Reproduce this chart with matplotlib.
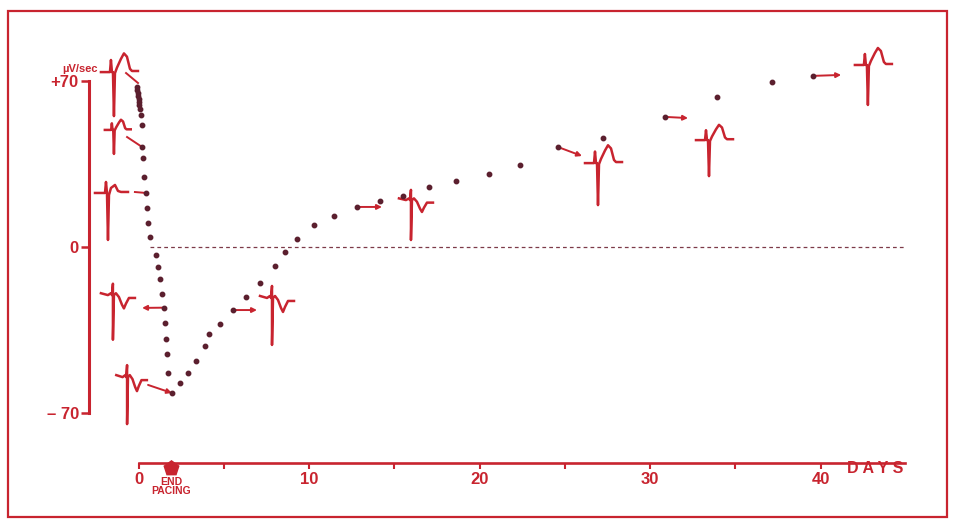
import matplotlib
matplotlib.use("Agg")
import matplotlib.pyplot as plt
from matplotlib.patches import Rectangle

# dV/dt: days after start, µV/sec
days = [-0.09, -0.06, -0.03, -0.03, 0.0, 0.03, 0.03, 0.06,
        0.13, 0.19, 0.21, 0.26, 0.32, 0.44, 0.48, 0.56, 0.67,
        1.03, 1.13, 1.26, 1.36, 1.48, 1.55, 1.61, 1.65, 1.71, 1.96,
        2.43, 2.89, 3.38, 3.90, 4.13, 4.78, 5.52, 6.30, 7.13, 8.01,
        8.62, 9.28, 10.29, 11.47, 12.81, 14.16, 15.50, 17.03, 18.60, 20.54,
        22.37, 24.60, 27.23, 30.88, 33.91, 37.14, 39.56]
dvdt = [67.5, 66.2, 65.0, 63.7, 62.4, 61.2, 59.9, 58.2,
        55.7, 51.5, 42.2, 37.6, 29.5, 22.8, 16.5, 10.1, 4.2,
        -3.4, -8.3, -13.5, -19.8, -25.6, -31.9, -38.7, -45.1, -53.0, -61.6,
        -57.3, -53.0, -48.1, -41.8, -36.7, -32.5, -26.6, -21.2, -15.1, -8.0,
        -2.0, 3.4, 9.3, 13.2, 16.9, 19.5, 21.6, 25.4, 28.0, 30.8,
        34.6, 42.2, 45.9, 55.0, 63.4, 69.5, 72.2]

yticks = [-70, 0, 70]
ytick_labels = ["\u2013 70", "0", "+70"]
xticks_major = [0, 10, 20, 30, 40]
xticks_minor = [5, 15, 25, 35]
end_pacing_day = 1.9

# little ECG sketches (offsets in pixels: right, up)
ECG_UP = [(-13, 0), (-4, 0), (-3, 11), (-2, 0), (-1, 0), (0, -40), (1, -1), (3, 4),
          (7, 12), (10, 17), (13, 14), (16, 3), (18, 1), (24, 1)]
ECG_FLAT = [(-13, 0), (-3, 0), (-2, 11), (-1, 0), (0, -47), (1, -2), (3, 5), (7, 8),
            (10, 2), (13, 1), (20, 1)]
ECG_INV = [(-12, 2), (-5, 0), (-2, 2), (-1, 0), (0, 12), (0, -47), (1, 0), (3, 2),
           (6, -2), (9, -10), (11, -14), (13, -9), (16, -3), (22, -3)]
shapes = {"up": ECG_UP, "flat": ECG_FLAT, "inv": ECG_INV}

inset_day = [-1.44, -1.44, -1.79, -1.50, -0.67, 7.83, 15.98, 26.95, 33.46, 42.78]
inset_val = [73.8, 49.4, 22.8, -20.3, -54.9, -21.5, 19.8, 35.4, 45.1, 76.8]
inset_kind = ["up", "up", "flat", "inv", "inv", "inv", "inv", "up", "up", "up"]
inset_scale = [(1, 1.1), (0.7, 0.6), (1, 1), (1, 0.95), (0.9, 1), (1, 1), (1, 0.85),
               (1, 1.05), (1, 0.9), (1, 1)]

# connectors between points and sketches (day0, val0, day1, val1)
plain_links = [(-0.73, 73.4, -0.03, 69.2), (-0.67, 46.4, 0.21, 42.2), (-0.21, 23.2, 0.44, 22.8)]
arrow_links = [(1.48, -25.6, 0.21, -25.7), (0.56, -58.2, 1.96, -61.6),
               (5.52, -26.6, 6.95, -26.6), (12.81, 16.9, 14.28, 16.9),
               (24.60, 42.2, 26.01, 38.4), (30.88, 54.9, 32.23, 54.4),
               (39.56, 72.2, 41.21, 72.6)]

RED = "#c8242f"
DOT = "#5b1f2e"
PX_DAY = 17.05   # pixels per day
PX_VAL = 2.37    # pixels per µV/sec

plt.rcParams['font.family'] = ['Liberation Sans', 'DejaVu Sans']
plt.rcParams['font.weight'] = 'bold'

fig = plt.figure(figsize=(9.55, 5.21), dpi=100)
ax = fig.add_axes([0, 0, 1, 1])
ax.set_xlim(-138.5 / PX_DAY, (955 - 138.5) / PX_DAY)
ax.set_ylim((247 - 521) / PX_VAL, 247 / PX_VAL)
ax.patch.set_alpha(0)

# frame round the figure
fig.patches.append(Rectangle((8 / 955, 4 / 521), 939 / 955, 506 / 521, transform=fig.transFigure,
                             fill=False, edgecolor=RED, lw=1.6))

# axes
for s in ["top", "right"]:
    ax.spines[s].set_visible(False)
ax.spines["left"].set_position(("data", (88.5 - 138.5) / PX_DAY))
ax.spines["left"].set_bounds(-70, 70)
ax.spines["left"].set_color(RED)
ax.spines["left"].set_linewidth(2.2)
ax.spines["bottom"].set_position(("data", (247 - 462.7) / PX_VAL))
ax.spines["bottom"].set_bounds(0, (905 - 138.5) / PX_DAY)
ax.spines["bottom"].set_color(RED)
ax.spines["bottom"].set_linewidth(1.9)

ax.set_yticks(yticks)
ax.set_yticklabels(ytick_labels)
ax.set_xticks(xticks_major)
ax.set_xticks(xticks_minor, minor=True)
ax.tick_params(axis="y", direction="out", length=5.5, width=1.8, color=RED, pad=1.5,
               labelcolor=RED, labelsize=12)
ax.tick_params(axis="x", which="both", direction="out", length=4.5, width=1.5, color=RED,
               pad=2.5, labelcolor=RED, labelsize=12)

ax.text((80 - 138.5) / PX_DAY, (247 - 69) / PX_VAL, "\u00b5V/sec", color=RED, fontsize=8,
        ha="center", va="center")
ax.text(43.2, (247 - 468) / PX_VAL, "D A Y S", color=RED, fontsize=11.5,
        ha="center", va="center")

# end of pacing marker
ax.plot([end_pacing_day], [(247 - 468) / PX_VAL], marker=(5, 0, 0), ms=11, color=RED,
        clip_on=False)
ax.text(end_pacing_day, (247 - 482) / PX_VAL, "END", color=RED, fontsize=7.5,
        ha="center", va="center")
ax.text(end_pacing_day, (247 - 491) / PX_VAL, "PACING", color=RED, fontsize=7.5,
        ha="center", va="center")

# zero line
ax.plot([0.7, 44.96], [0, 0], ls=(0, (3, 2.5)), color="#7d3a48", lw=0.9)

# ECG sketches
for d, v, k, (sx, sy) in zip(inset_day, inset_val, inset_kind, inset_scale):
    pts = shapes[k]
    xs = [d + sx * p[0] / PX_DAY for p in pts]
    ys = [v + sy * p[1] / PX_VAL for p in pts]
    ax.plot(xs, ys, color=RED, lw=1.8, solid_joinstyle="round")

for x0, y0, x1, y1 in plain_links:
    ax.plot([x0, x1], [y0, y1], color=RED, lw=1.4)
for x0, y0, x1, y1 in arrow_links:
    ax.annotate("", xy=(x1, y1), xytext=(x0, y0),
                arrowprops=dict(arrowstyle="-|>", color=RED, lw=1.4, mutation_scale=7,
                                shrinkA=0, shrinkB=0))

# dV/dt points
ax.plot(days, dvdt, "o", ms=3.2, color=DOT, zorder=5)

fig.savefig("out.png", dpi=100)
